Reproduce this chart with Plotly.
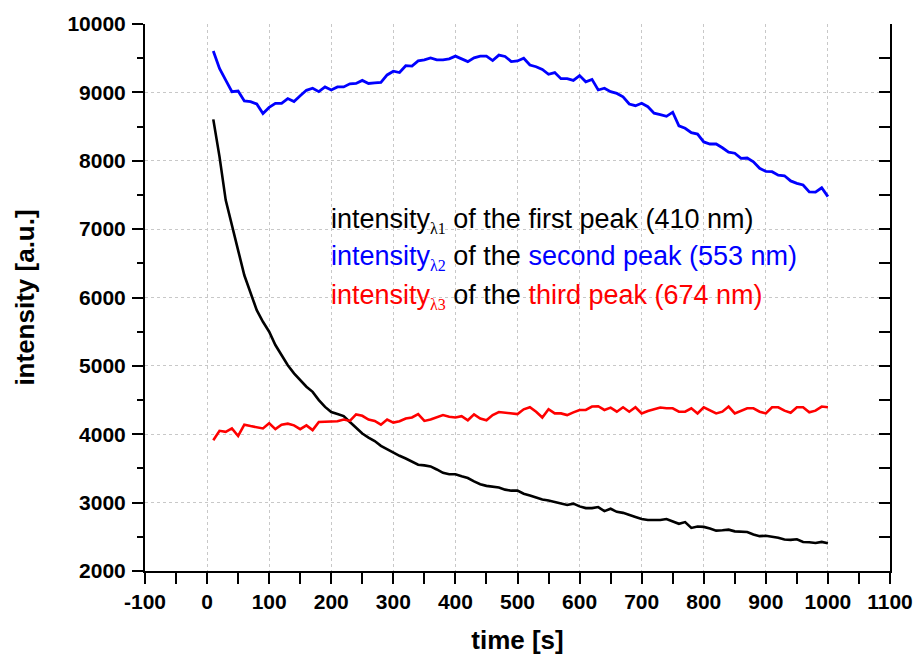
import plotly.graph_objects as go

time_s = [10, 20, 30, 40, 50, 60, 70, 80, 90, 100,
          110, 120, 130, 140, 150, 160, 170, 180, 190, 200,
          210, 220, 230, 240, 250, 260, 270, 280, 290, 300,
          310, 320, 330, 340, 350, 360, 370, 380, 390, 400,
          410, 420, 430, 440, 450, 460, 470, 480, 490, 500,
          510, 520, 530, 540, 550, 560, 570, 580, 590, 600,
          610, 620, 630, 640, 650, 660, 670, 680, 690, 700,
          710, 720, 730, 740, 750, 760, 770, 780, 790, 800,
          810, 820, 830, 840, 850, 860, 870, 880, 890, 900,
          910, 920, 930, 940, 950, 960, 970, 980, 990, 1000]

intensity_410 = [8605, 8060, 7425, 7035, 6690, 6325, 6080, 5815, 5645, 5500,
                 5305, 5155, 5010, 4890, 4790, 4695, 4620, 4500, 4400, 4325,
                 4295, 4265, 4180, 4100, 4010, 3950, 3900, 3830, 3780, 3730,
                 3685, 3645, 3595, 3555, 3545, 3530, 3485, 3435, 3415, 3415,
                 3385, 3360, 3310, 3270, 3245, 3235, 3220, 3190, 3175, 3175,
                 3130, 3105, 3070, 3045, 3030, 3010, 2985, 2965, 2985, 2945,
                 2920, 2920, 2935, 2875, 2910, 2865, 2850, 2815, 2790, 2760,
                 2745, 2745, 2745, 2760, 2725, 2690, 2715, 2630, 2650, 2645,
                 2620, 2590, 2595, 2605, 2580, 2570, 2570, 2535, 2510, 2515,
                 2505, 2485, 2460, 2455, 2465, 2425, 2420, 2410, 2425, 2405]

intensity_553 = [9605, 9350, 9180, 9010, 9020, 8875, 8865, 8830, 8690, 8780,
                 8840, 8840, 8910, 8865, 8950, 9030, 9060, 9010, 9080, 9035,
                 9080, 9080, 9125, 9130, 9175, 9130, 9140, 9145, 9255, 9310,
                 9290, 9390, 9385, 9460, 9475, 9505, 9475, 9475, 9490, 9530,
                 9490, 9450, 9505, 9530, 9530, 9465, 9545, 9525, 9450, 9460,
                 9500, 9400, 9375, 9335, 9265, 9290, 9200, 9200, 9175, 9245,
                 9155, 9190, 9035, 9060, 9010, 8985, 8935, 8830, 8805, 8840,
                 8790, 8695, 8675, 8650, 8710, 8510, 8475, 8410, 8390, 8275,
                 8245, 8245, 8190, 8125, 8110, 8035, 8040, 7985, 7890, 7845,
                 7840, 7790, 7780, 7705, 7670, 7645, 7545, 7540, 7605, 7475]

intensity_674 = [3912, 4050, 4035, 4085, 3975, 4140, 4120, 4100, 4085, 4160,
                 4075, 4140, 4155, 4130, 4075, 4130, 4060, 4180, 4180, 4190,
                 4190, 4215, 4195, 4290, 4270, 4215, 4195, 4140, 4215, 4170,
                 4190, 4230, 4245, 4295, 4195, 4215, 4245, 4280, 4255, 4245,
                 4265, 4205, 4290, 4230, 4205, 4280, 4325, 4315, 4315, 4295,
                 4365, 4395, 4330, 4245, 4365, 4305, 4305, 4280, 4320, 4355,
                 4355, 4405, 4410, 4355, 4390, 4330, 4395, 4330, 4395, 4305,
                 4340, 4365, 4390, 4380, 4380, 4330, 4330, 4380, 4305, 4395,
                 4355, 4305, 4330, 4405, 4305, 4340, 4380, 4380, 4330, 4305,
                 4395, 4395, 4345, 4315, 4395, 4395, 4320, 4345, 4405, 4395]

x_ticks = [-100, 0, 100, 200, 300, 400, 500, 600, 700, 800, 900, 1000, 1100]
y_ticks = [2000, 3000, 4000, 5000, 6000, 7000, 8000, 9000, 10000]
y_grid = [3000, 4000, 5000, 6000, 7000, 8000, 9000]

FONT = "Liberation Sans, Arial, sans-serif"
SUB = "<sub><span style=\"font-family:'Liberation Serif',serif;font-size:16px\">λ%s</span></sub>"

fig = go.Figure()
fig.add_trace(go.Scatter(x=time_s, y=intensity_410, mode="lines",
                         line=dict(color="#000000", width=2.6), showlegend=False))
fig.add_trace(go.Scatter(x=time_s, y=intensity_553, mode="lines",
                         line=dict(color="#0000ff", width=2.8), showlegend=False))
fig.add_trace(go.Scatter(x=time_s, y=intensity_674, mode="lines",
                         line=dict(color="#ff0000", width=2.6), showlegend=False))
# helper axes: right-hand axis (inward ticks) and horizontal grid
fig.add_trace(go.Scatter(x=[None], y=[None], yaxis="y2", showlegend=False, hoverinfo="skip"))
fig.add_trace(go.Scatter(x=[None], y=[None], yaxis="y3", showlegend=False, hoverinfo="skip"))

fig.update_layout(
    width=915, height=655,
    margin=dict(l=145, r=25, t=24, b=84, autoexpand=False),
    paper_bgcolor="white", plot_bgcolor="white",
    font=dict(family=FONT, color="black"),
    xaxis=dict(range=[-100, 1100], tickvals=x_ticks, ticktext=[str(v) for v in x_ticks],
               ticks="outside", ticklen=11, tickwidth=2, tickcolor="black",
               showline=True, linecolor="black", linewidth=2, zeroline=False,
               tickfont=dict(family=FONT, size=21, weight="bold"),
               ticklabelstandoff=0, automargin=False,
               showgrid=True, gridcolor="#c8c8c8", griddash="dot", gridwidth=1,
               minor=dict(dtick=50, tick0=0, ticks="outside", ticklen=11, tickwidth=2,
                          tickcolor="black", showgrid=False),
               title=dict(text="time [s]", font=dict(family=FONT, size=26, weight="bold"),
                          standoff=27)),
    yaxis=dict(range=[2000, 10000], tickvals=y_ticks, ticktext=[str(v) for v in y_ticks],
               ticks="outside", ticklen=11, tickwidth=2, tickcolor="black",
               showline=True, linecolor="black", linewidth=2, zeroline=False,
               tickfont=dict(family=FONT, size=21, weight="bold"),
               ticklabelstandoff=2, automargin=False, showgrid=False,
               minor=dict(dtick=500, tick0=0, ticks="outside", ticklen=6, tickwidth=2,
                          tickcolor="black", showgrid=False),
               title=dict(text="intensity [a.u.]", font=dict(family=FONT, size=26, weight="bold"),
                          standoff=25)),
    yaxis2=dict(range=[2000, 10000], overlaying="y", side="right", anchor="x",
                dtick=500, tick0=0, ticks="inside", ticklen=11, tickwidth=2, tickcolor="black",
                showline=True, linecolor="black", linewidth=2, zeroline=False,
                showticklabels=False, showgrid=False, automargin=False),
    yaxis3=dict(range=[2000, 10000], overlaying="y", side="left", anchor="x",
                tickvals=y_grid, ticks="", showline=False, zeroline=False,
                showticklabels=False, showgrid=True, gridcolor="#c8c8c8",
                griddash="dot", gridwidth=1, automargin=False, layer="below traces"),
)

lines = [
    ("intensity" + SUB % "1" + " of the first peak (410 nm)", 7130),
    ("<span style=\"color:#0000ff\">intensity" + SUB % "2" + "</span> of the "
     "<span style=\"color:#0000ff\">second peak (553 nm)</span>", 6580),
    ("<span style=\"color:#ff0000\">intensity" + SUB % "3" + "</span> of the "
     "<span style=\"color:#ff0000\">third peak (674 nm)</span>", 6020),
]
for txt, yv in lines:
    fig.add_annotation(x=197, y=yv, xref="x", yref="y", text=txt, showarrow=False,
                       xanchor="left", yanchor="middle", align="left",
                       font=dict(family=FONT, size=27, color="black"))

fig.write_html("out.html")
